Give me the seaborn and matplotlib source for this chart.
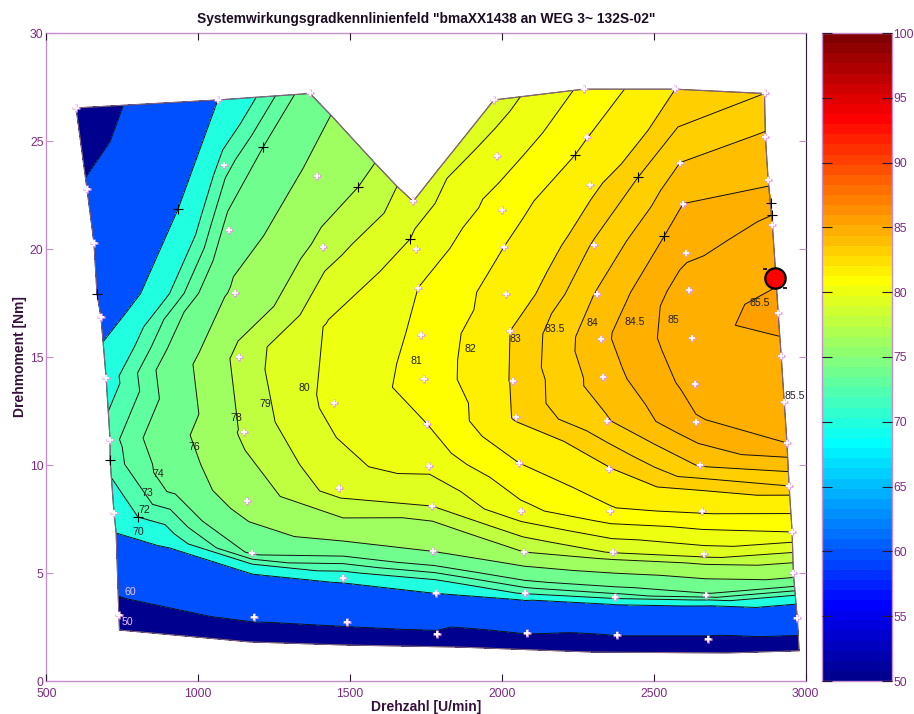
import numpy as np
import matplotlib
matplotlib.use("Agg")
import matplotlib.pyplot as plt
import matplotlib.tri as mtri
from matplotlib.path import Path
from matplotlib.cm import ScalarMappable
from matplotlib.colors import ListedColormap, Normalize
import seaborn as sns

# measured points shown with light markers
rpm_white = [739, 723, 710, 697, 680, 657, 634, 598,
             1184, 1177, 1161, 1152, 1135, 1121, 1102, 1086, 1065,
             1490, 1478, 1465, 1448, 1411, 1392, 1368,
             1787, 1784, 1774, 1770, 1760, 1754, 1744, 1734, 1724, 1718, 1708,
             2083, 2076, 2073, 2063, 2056, 2046, 2037, 2027, 2014, 2007, 2000, 1984, 1974,
             2380, 2373, 2366, 2356, 2353, 2345, 2332, 2325, 2315, 2305, 2290, 2280, 2270,
             2680, 2673, 2666, 2660, 2653, 2640, 2637, 2627, 2617, 2607, 2597, 2587, 2571,
             2973, 2960, 2956, 2946, 2939, 2930, 2920, 2910, 2891, 2877, 2868, 2865]
torque_white = [3.05, 7.78, 11.16, 14.03, 16.85, 20.28, 22.78, 26.53,
                2.95, 5.93, 8.33, 11.53, 15.0, 17.96, 20.9, 23.9, 26.9,
                2.73, 4.77, 8.93, 12.87, 20.1, 23.4, 27.2,
                2.17, 4.07, 6.0, 8.1, 9.97, 11.9, 14.0, 16.0, 18.2, 20.0, 22.2,
                2.22, 4.07, 5.97, 7.87, 10.1, 12.2, 13.9, 16.2, 17.9, 20.1, 21.8, 24.3, 26.9,
                2.13, 3.89, 5.97, 7.87, 9.8, 12.04, 14.07, 15.83, 17.92, 20.2, 22.96, 25.2, 27.4,
                1.95, 4.0, 5.9, 7.87, 10.0, 12.0, 13.75, 15.9, 18.1, 19.8, 22.1, 24.0, 27.4,
                2.92, 5.0, 6.9, 9.03, 11.02, 12.92, 15.05, 17.04, 21.1, 23.2, 25.2, 27.2]
eff_white = [57, 71, 72.6, 71.3, 68.5, 64, 60.8, 55,
             61.4, 74.25, 77.16, 78.3, 78.5, 76.5, 74.55, 72.6, 70,
             61.5, 71.1, 79.5, 80.34, 78.5, 76.7, 74.8,
             59, 70.1, 76, 79, 80.27, 81, 81.36, 81.18, 81, 80.37, 79.5,
             60.3, 72.2, 78, 80.7, 82, 83.1, 83.08, 83, 82.5, 82, 81.53, 80.5, 79.5,
             60.3, 72.5, 79.1, 81.85, 82.95, 83.95, 84.25, 84.38, 84.05, 83.57, 82.82, 81.97, 81.2,
             59, 73.8, 79.5, 82.15, 84.05, 84.95, 85.2, 85.38, 85.3, 84.9, 84.5, 84.0, 83.0,
             66.9, 77, 81, 83.5, 85, 85.42, 85.4, 85.62, 85.1, 84.41, 84.07, 83.5]

# measured points shown with black markers
rpm_black = [1214, 1527, 1698, 934, 802, 710, 667, 2241, 2449, 2535, 2887, 2890]
torque_black = [24.72, 22.87, 20.46, 21.85, 7.59, 10.23, 17.92, 24.35, 23.33, 20.6, 22.13, 21.57]
eff_black = [74, 78, 80, 70, 72, 72.5, 67, 82, 83.5, 84.5, 84.75, 85]

# points without a visible marker, along the map edge and in sparse areas
rpm_edge = [741, 1171, 1477, 1862, 2300, 2742, 2979, 730, 687, 2580, 2900,
            1437, 1582, 1655, 1477, 1477, 1430, 940, 874, 1784, 1869]
torque_edge = [2.36, 1.81, 1.67, 1.57, 1.34, 1.3, 1.4, 6.85, 15.7, 25.65, 19.25,
               26.2, 23.98, 22.9, 6.48, 7.55, 16.5, 9.3, 6.53, 23.56, 25.05]
eff_edge = [52, 54, 54, 54, 54, 54, 54, 70, 70, 83.5, 85.4,
            76, 78, 79, 76, 78, 80.1, 74.9, 71, 79.7, 79.6]

# outline of the measured map
rpm_outline = [741, 1171, 1477, 1862, 2300, 2742, 2979, 2973, 2960, 2956, 2946, 2939, 2930, 2920, 2910,
               2900, 2891, 2877, 2868, 2865, 2571, 2270, 1974, 1869, 1784, 1708, 1655, 1582, 1437, 1368, 1065, 598,
               634, 657, 667, 680, 687, 697, 710, 710, 723, 730, 739, 741]
torque_outline = [2.36, 1.81, 1.67, 1.57, 1.34, 1.3, 1.4, 2.92, 5.0, 6.9, 9.03, 11.02, 12.92, 15.05, 17.04,
                  19.25, 21.1, 23.2, 25.2, 27.2, 27.4, 27.4, 26.9, 25.05, 23.56, 22.2, 22.9, 23.98, 26.2, 27.2, 26.9, 26.53,
                  22.78, 20.28, 17.92, 16.85, 15.7, 14.03, 11.16, 10.23, 7.78, 6.85, 3.05, 2.36]

levels = [50, 60, 70, 72, 73, 74, 76, 78, 79, 80, 81, 82, 83, 83.5, 84, 84.5, 85, 85.5, 100]

# contour labels
label_text = ["50", "60", "70", "72", "73", "74", "76", "78", "79", "80", "81", "82", "83",
              "83.5", "84", "84.5", "85", "85.5", "85.5"]
label_rpm = [766, 776, 802, 822, 832, 868, 986, 1125, 1220, 1349, 1718, 1896, 2044,
             2175, 2297, 2439, 2564, 2850, 2966]
label_torque = [2.73, 4.13, 6.9, 7.9, 8.7, 9.58, 10.83, 12.18, 12.82, 13.56, 14.81, 15.37, 15.83,
                16.3, 16.57, 16.6, 16.7, 17.5, 13.2]

best_rpm = [2898]
best_torque = [18.64]
stub_rpm = [2867, 2933]
stub_torque = [19.07, 18.2]


def matlab_jet():
    # the 64 step jet of the original tool, a bit different from matplotlib's
    i = np.arange(1, 65)
    r = np.clip((i - 24) / 16, 0, 1) - np.clip((i - 56) / 16, 0, 1)
    g = np.clip((i - 8) / 16, 0, 1) - np.clip((i - 40) / 16, 0, 1)
    b = np.clip(0.5 + i / 16, 0, 1) - np.clip((i - 24) / 16, 0, 1)
    return ListedColormap(np.c_[r, g, b])


sns.set_theme(style="white")
plt.rcParams["font.family"] = ["Liberation Sans", "DejaVu Sans"]

purple = "#7d2a85"
spine_light = "#c48fcc"
dark = "#2a1a30"

fig = plt.figure(figsize=(9.14, 7.14), dpi=100)
W, H = 914.0, 714.0
ax = fig.add_axes([46.3 / W, 1 - 681 / H, (805.5 - 46.3) / W, (681 - 33) / H])
cax = fig.add_axes([822 / W, 1 - 681 / H, 70 / W, (681 - 33) / H])

rpm = np.array(rpm_white + rpm_black + rpm_edge, dtype=float)
torque = np.array(torque_white + torque_black + torque_edge, dtype=float)
eff = np.array(eff_white + eff_black + eff_edge, dtype=float)

# triangulate in screen-like proportions, then drop what falls outside the outline
triangles = mtri.Triangulation(rpm * 0.3036, torque * 21.6).triangles
tri = mtri.Triangulation(rpm, torque, triangles)
centers = np.c_[rpm[triangles].mean(axis=1), torque[triangles].mean(axis=1)]
outline = Path(np.c_[rpm_outline, torque_outline])
tri.set_mask(~outline.contains_points(centers))

jet = matlab_jet()
norm = Normalize(50, 100)
fill_colors = [jet(norm(v)) for v in levels[:-1]]

ax.tricontourf(tri, eff, levels=levels, colors=fill_colors)
ax.tricontour(tri, eff, levels=levels[1:-1], colors="#111111", linewidths=0.7)
ax.plot(rpm_outline, torque_outline, color="#111111", lw=0.8, zorder=3)
ax.plot(rpm_outline, torque_outline, color="#e3a6e3", lw=0.7, alpha=0.6, zorder=3)

for txt, x, y in zip(label_text, label_rpm, label_torque):
    col = "#f4c4f4" if txt in ("50", "60") else "#222222"
    ax.text(x, y, txt, fontsize=7.6, color=col, ha="center", va="center", zorder=4)

sns.scatterplot(x=rpm_white, y=torque_white, marker="+", s=40, color="#e59be5", linewidth=1.8, ax=ax, zorder=5)
sns.scatterplot(x=rpm_white, y=torque_white, marker="+", s=16, color="white", linewidth=1.2, ax=ax, zorder=6)
sns.scatterplot(x=rpm_black, y=torque_black, marker="+", s=42, color="black", linewidth=0.8, ax=ax, zorder=5)
sns.scatterplot(x=stub_rpm, y=stub_torque, marker="_", s=10, color="black", linewidth=1.2, ax=ax, zorder=5)
sns.scatterplot(x=best_rpm, y=best_torque, marker="o", s=215, color="#ff0000", edgecolor="black",
                linewidth=1.6, ax=ax, zorder=7)

ax.set_xlim(500, 3000)
ax.set_ylim(0, 30)
ax.set_xticks(range(500, 3001, 500))
ax.set_yticks(range(0, 31, 5))
ax.set_axisbelow(False)
ax.tick_params(axis="x", direction="in", top=True, bottom=True, length=5, width=0.8, color=dark,
               labelsize=8.8, labelcolor=purple, pad=5)
ax.tick_params(axis="y", direction="in", left=True, right=True, length=5, width=0.8, color=spine_light,
               labelsize=8.8, labelcolor=purple, pad=2)
for side in ["left", "top", "bottom"]:
    ax.spines[side].set_color(spine_light)
    ax.spines[side].set_linewidth(1.0)
ax.spines["right"].set_color(dark)
ax.spines["right"].set_linewidth(0.8)
ax.set_xlabel("Drehzahl [U/min]", fontsize=10, fontweight="bold", color="#35103a", labelpad=0)
ax.set_ylabel("Drehmoment [Nm]", fontsize=10, fontweight="bold", color="#35103a", labelpad=2)
ax.set_title('Systemwirkungsgradkennlinienfeld "bmaXX1438 an WEG 3~ 132S-02"',
             fontsize=9.9, fontweight="bold", color="#1c0c22", pad=7)

cb = fig.colorbar(ScalarMappable(norm=norm, cmap=jet), cax=cax)
cb.set_ticks(range(50, 101, 5))
cb.ax.set_axisbelow(False)
cb.ax.tick_params(axis="y", direction="in", left=True, right=True, length=7, width=0.8, color=dark,
                  labelsize=8.8, labelcolor=purple, pad=1)
cb.outline.set_edgecolor(spine_light)
cb.outline.set_linewidth(1.0)

fig.savefig("out.png", dpi=100)
